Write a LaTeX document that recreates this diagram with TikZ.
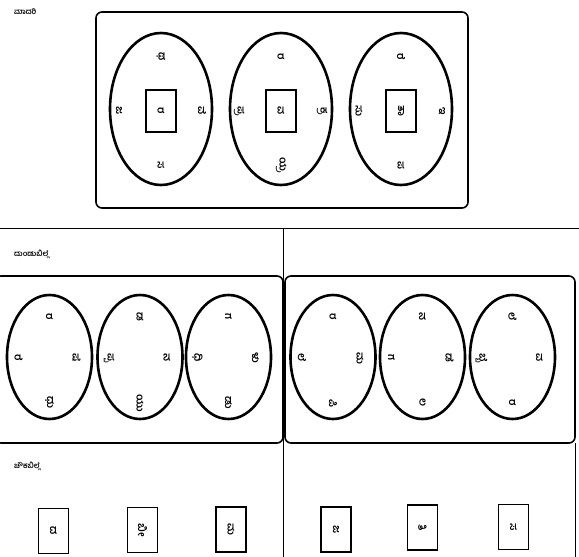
\documentclass[tikz,border=0pt]{standalone}
\usepackage{fontspec}
\newfontfamily\kan[Script=Kannada]{Hind Mysuru}
\tikzset{
  ring/.style={draw, line width=2.6pt},
  tbox/.style={draw, line width=1.6pt},
  sq/.style={draw, line width=1.6pt, minimum width=30pt, minimum height=43pt, inner sep=0pt},
  lt/.style={font=\kan\bfseries\fontsize{10.5}{10.5}\selectfont, rotate=-90, inner sep=0pt},
  hd/.style={font=\kan\bfseries\fontsize{7.5}{7.5}\selectfont, anchor=west, inner sep=0pt},
  rule/.style={draw, line width=1pt}
}
\begin{document}
\begin{tikzpicture}[x=1pt,y=-1pt]
\useasboundingbox (0,0) rectangle (579,557);
% headings
\node[hd] (h1) at (14,12) {ಮಾದರಿ};
\node[hd] (h2) at (14,254) {ದುಂಡುಬಿಲ್ಲೆ};
\node[hd] (h3) at (14,466) {ಚೌಕಬಿಲ್ಲೆ};
% top box
\draw[tbox, rounded corners=6pt] (96,12) rectangle (468,208);
% dividing lines
\coordinate (hl) at (0,228);
\coordinate (hr) at (579,228);
\draw[rule] (hl) -- (hr);
\coordinate (vt) at (283,228);
\coordinate (vb) at (283,557);
\draw[rule] (vt) -- (vb);
\coordinate (rt) at (575,443);
\coordinate (rb) at (575,557);
\draw[rule] (rt) -- (rb);
% lower boxes
\draw[tbox, rounded corners=6pt] (-5,276) rectangle (283,443);
\draw[tbox, rounded corners=6pt] (285,276) rectangle (575,443);

% top ellipses
\foreach \cx/\t/\l/\r/\b/\c [count=\i] in {161/ಥ/ಜ/ವೆ/ಸ/ರ, 281/ರ/ಪ್ರ/ಕ್ರ/ಯ್ರ/ವ, 401/ರೆ/ಸು/ಇ/ಪ/ತಾ}{
  \draw[ring] (\cx,109) ellipse [x radius=51, y radius=76];
  \node[sq, minimum height=42pt] (s\i) at (\cx,111) {};
  \node[lt] (c\i) at (\cx,111) {\c};
  \node[lt] (t\i) at (\cx,57) {\t};
  \node[lt] (l\i) at (\cx-42,111) {\l};
  \node[lt] (r\i) at (\cx+41,111) {\r};
  \node[lt] (b\i) at (\cx,165) {\b};
}

% lower ellipses
\foreach \cx/\t/\l/\r/\b [count=\i] in {49.5/ರ/ರೆ/ಷೆ/ಧು, 140/ಡ/ಪ್ಪ/ನ/ಯು, 228.5/ಗ/ಧಿ/ಳು/ಡು, 333/ರ/ಲೆ/ಮ/ಪಿ, 422.5/ನ/ಗ/ಡೆ/ಲ, 512.5/ಲೆ/ಬ್ಬೆ/ವ/ರ}{
  \draw[ring] (\cx,357) ellipse [x radius=42.5, y radius=62];
  \node[lt] (dt\i) at (\cx,317) {\t};
  \node[lt] (dl\i) at (\cx-31,358) {\l};
  \node[lt] (dr\i) at (\cx+27,358) {\r};
  \node[lt] (db\i) at (\cx,403) {\b};
}

% squares bottom
\foreach \cx/\cy/\c [count=\i] in {53.5/531/ದ, 142.5/530/ಬೀ, 231/529.5/ಮ, 336/529.5/ಜ, 422.5/527.5/ತಿ, 513.5/527/ಸ}{
  \node[sq, minimum height=45pt] (q\i) at (\cx,\cy) {};
  \node[lt] (qc\i) at (\cx,\cy) {\c};
}
\end{tikzpicture}
\end{document}
